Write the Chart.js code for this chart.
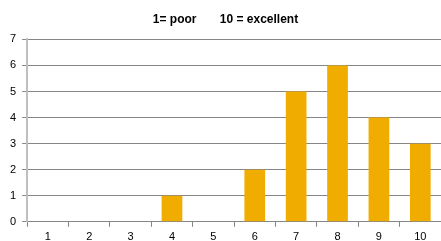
<!DOCTYPE html>
<html><head><meta charset="utf-8">
<script src="https://cdn.jsdelivr.net/npm/chart.js@4"></script>
<style>html,body{margin:0;padding:0;background:#fff}#w{width:441px;height:241px}</style>
</head><body><div id="w"><canvas id="c"></canvas></div>
<script>
const categories = ['1','2','3','4','5','6','7','8','9','10'];
const counts = [0,0,0,1,0,2,5,6,4,3];
const titleText = '1= poor       10 = excellent';
new Chart(document.getElementById('c'), {
  type: 'bar',
  data: { labels: categories, datasets: [{ data: counts, backgroundColor: '#F0AD00', borderWidth: 0, barPercentage: 0.5, categoryPercentage: 1 }] },
  options: {
    responsive: true, maintainAspectRatio: false, animation: false,
    layout: { padding: { left: 4, right: -6, top: 0, bottom: -7 } },
    plugins: { legend: { display: false }, tooltip: { enabled: false },
      title: { display: true, text: titleText, color: '#000', font: { family: 'Liberation Sans', size: 12, weight: 'bold' }, padding: { top: 12, bottom: 13 } } },
    scales: {
      x: { grid: { display: true, drawOnChartArea: false, drawTicks: true, tickLength: 5, color: '#868686', offset: true },
           border: { color: '#868686', width: 1 },
           ticks: { color: '#000', font: { family: 'Liberation Sans', size: 11 }, padding: 4 } },
      y: { min: 0, max: 7, ticks: { stepSize: 1, color: '#000', font: { family: 'Liberation Sans', size: 11 }, padding: 6 },
           grid: { color: '#868686', tickLength: 5 },
           border: { color: '#BFBFBF', width: 2 } }
    }
  }
});
</script></body></html>
